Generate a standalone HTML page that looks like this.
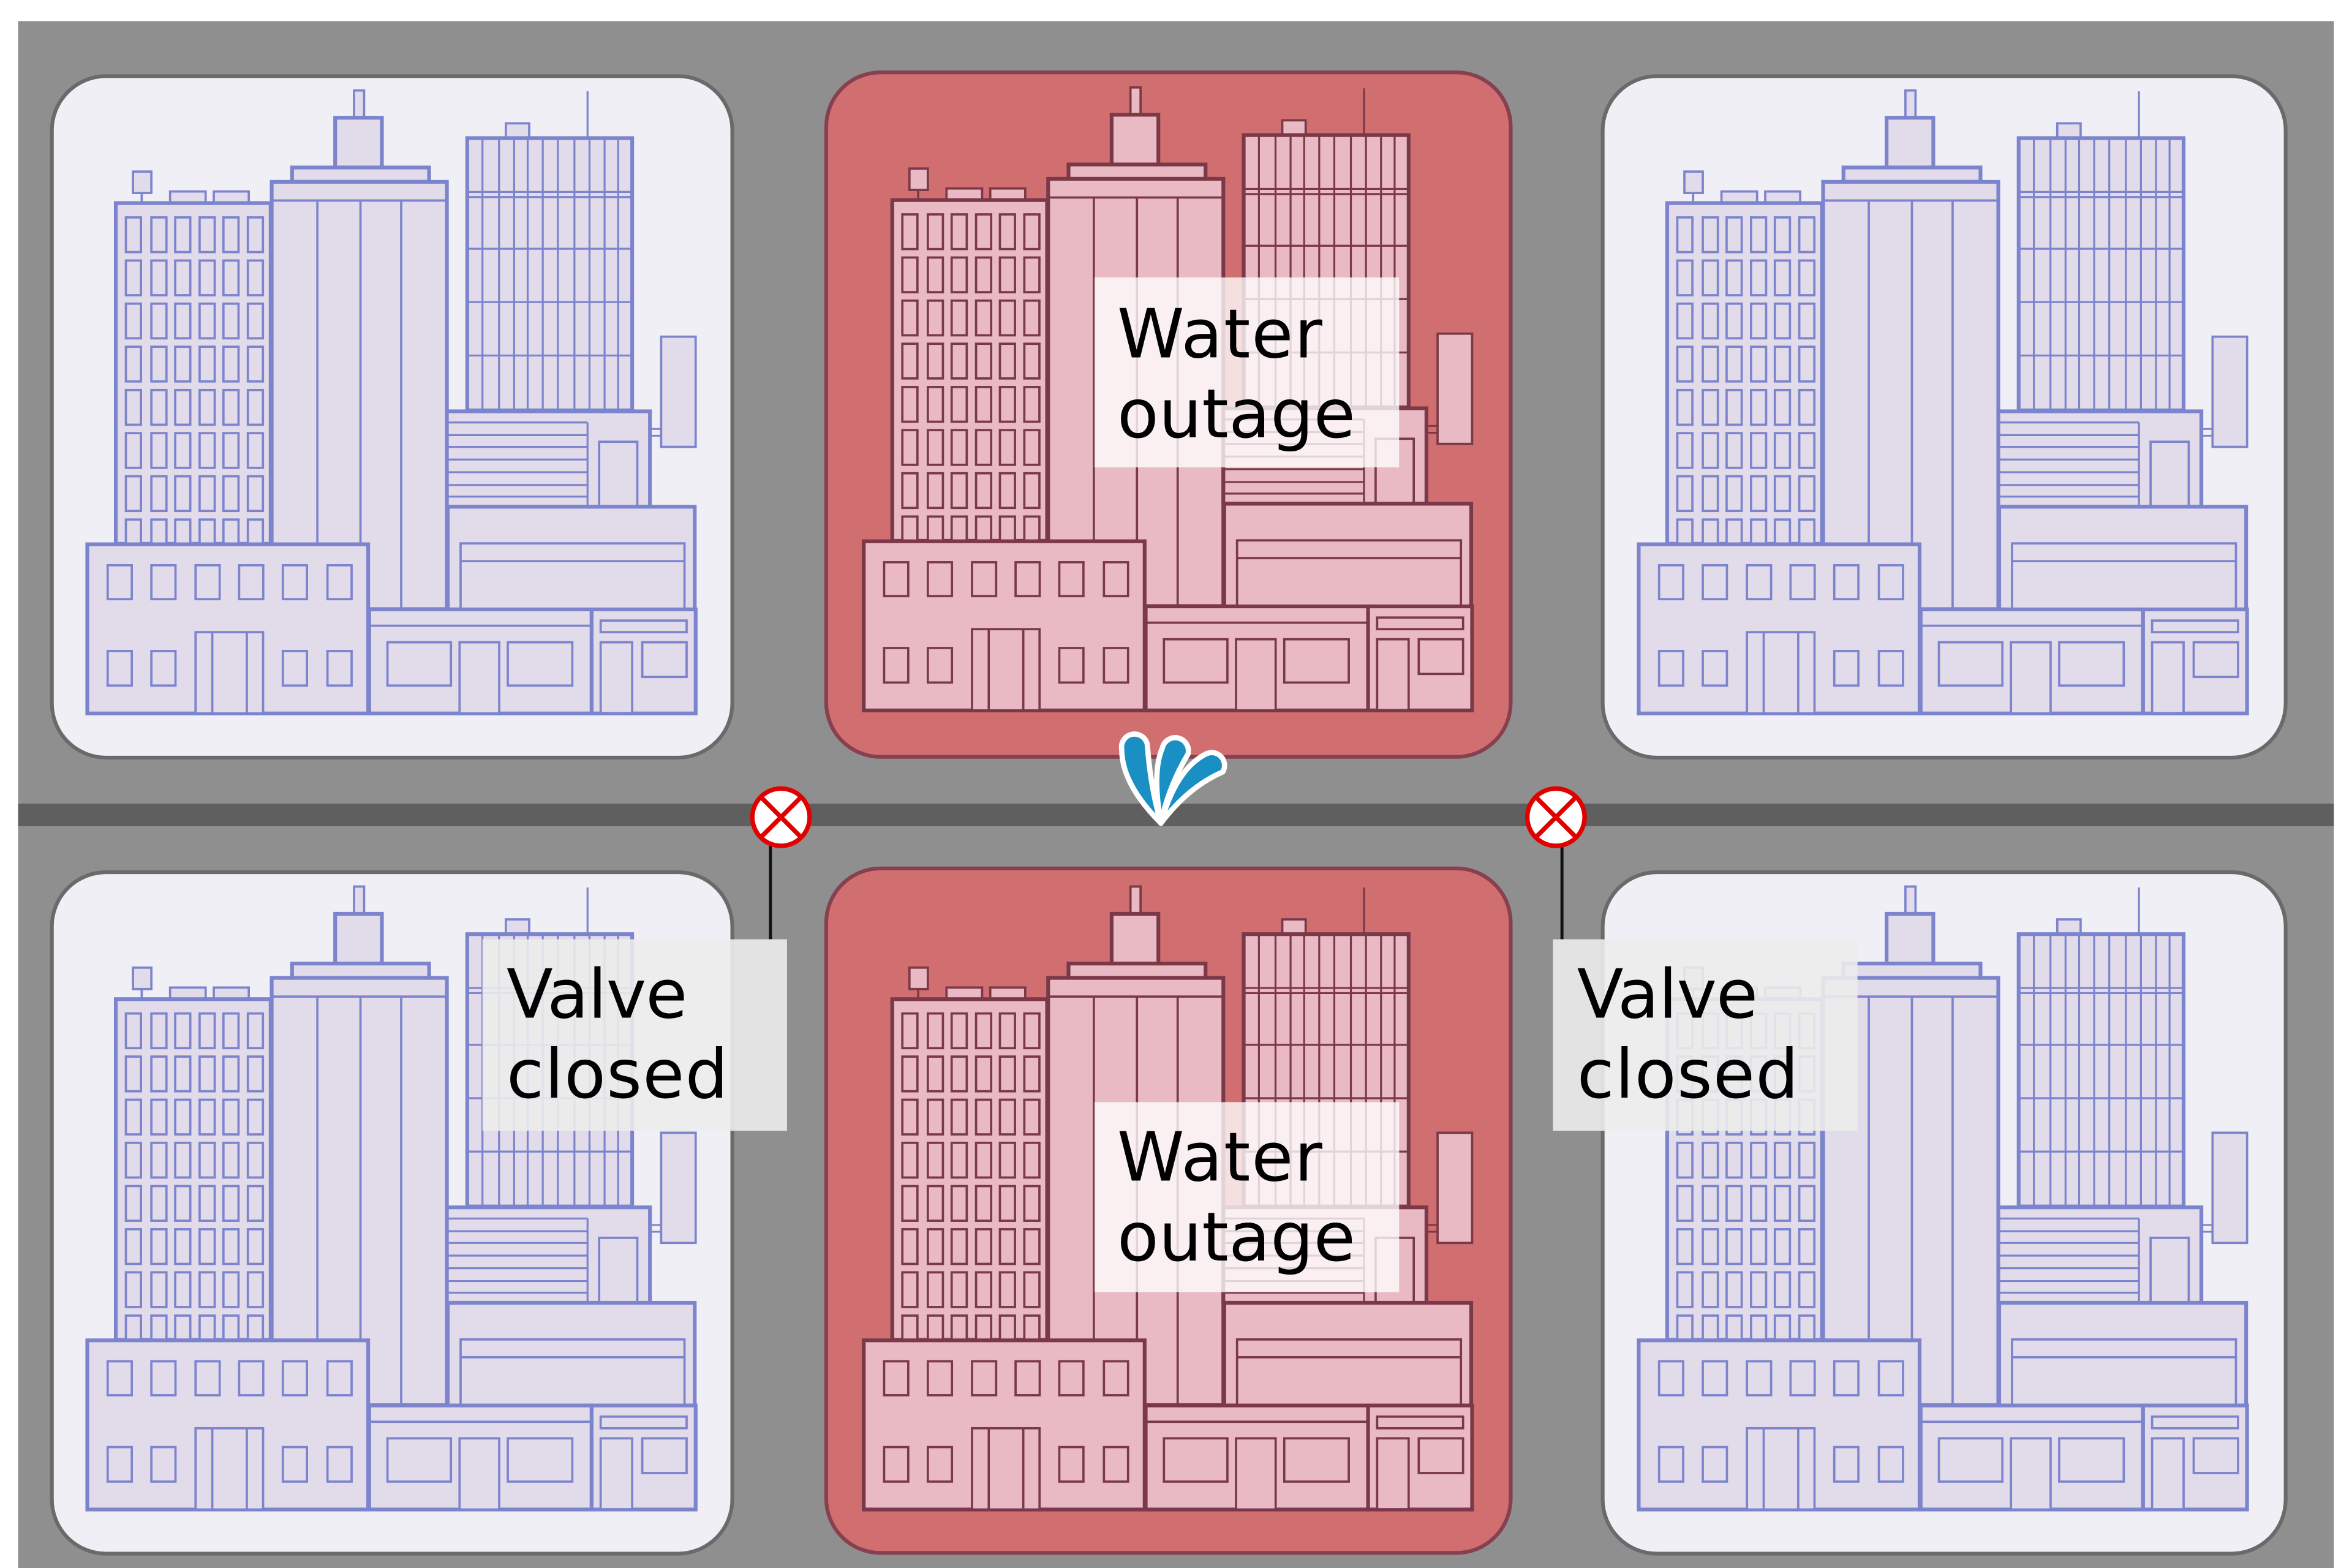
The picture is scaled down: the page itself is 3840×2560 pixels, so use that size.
<!DOCTYPE html>
<html><head><meta charset="utf-8"><style>
html,body{margin:0;padding:0;background:#fff;}
svg{display:block;}
text{font-family:"DejaVu Sans","Liberation Sans",sans-serif;font-size:45px;fill:#000;}
</style></head><body>
<svg width="3840" height="2560" viewBox="0 0 1560 1040" preserveAspectRatio="none" xmlns="http://www.w3.org/2000/svg">
<defs>
<g id="b">
 <rect x="88.2" y="113.8" width="12.2" height="14.2" stroke-width="1.5"/>
 <line x1="94" y1="128" x2="94" y2="135" stroke-width="1.5"/>
 <rect x="112.8" y="127" width="23.6" height="7.7" stroke-width="1.5"/>
 <rect x="141.8" y="127" width="23.2" height="7.7" stroke-width="1.5"/>
 <rect x="76.8" y="134.7" width="102.7" height="226" stroke-width="2.5"/>
 <g stroke-width="1.5">
  <g id="wr">
   <rect x="83.5" y="144.2" width="10" height="23"/><rect x="100.4" y="144.2" width="10" height="23"/><rect x="116.2" y="144.2" width="10" height="23"/><rect x="132.4" y="144.2" width="10" height="23"/><rect x="148.2" y="144.2" width="10" height="23"/><rect x="164.4" y="144.2" width="10" height="23"/>
  </g>
  <use href="#wr" y="28.6"/><use href="#wr" y="57.2"/><use href="#wr" y="85.8"/><use href="#wr" y="114.5"/><use href="#wr" y="143.1"/><use href="#wr" y="171.7"/><use href="#wr" y="200.4"/>
 </g>
 <rect x="234.8" y="60" width="6.7" height="18.1" stroke-width="1.5"/>
 <rect x="222.3" y="78.1" width="31" height="33" stroke-width="2.5"/>
 <rect x="193.7" y="111.1" width="90.9" height="9.5" stroke-width="2.5"/>
 <rect x="180.2" y="120.6" width="116.2" height="283.4" stroke-width="2.5"/>
 <g stroke-width="1.5" fill="none">
  <line x1="180.2" y1="133" x2="296.4" y2="133"/>
  <line x1="210.5" y1="133" x2="210.5" y2="404"/><line x1="239.1" y1="133" x2="239.1" y2="404"/><line x1="266.1" y1="133" x2="266.1" y2="404"/>
 </g>
 <line x1="389.7" y1="60.6" x2="389.7" y2="91.6" stroke-width="1.3"/>
 <rect x="335.5" y="81.8" width="15.5" height="9.8" stroke-width="1.5"/>
 <rect x="309.9" y="91.6" width="109.4" height="180.6" stroke-width="2.5"/>
 <g stroke-width="1.3" fill="none">
  <line x1="320" y1="91.6" x2="320" y2="272"/><line x1="331" y1="91.6" x2="331" y2="272"/><line x1="341" y1="91.6" x2="341" y2="272"/><line x1="350" y1="91.6" x2="350" y2="272"/><line x1="360" y1="91.6" x2="360" y2="272"/><line x1="370" y1="91.6" x2="370" y2="272"/><line x1="381" y1="91.6" x2="381" y2="272"/><line x1="391" y1="91.6" x2="391" y2="272"/><line x1="401" y1="91.6" x2="401" y2="272"/><line x1="410" y1="91.6" x2="410" y2="272"/>
  <line x1="309.9" y1="127.3" x2="419.3" y2="127.3"/><line x1="309.9" y1="130.7" x2="419.3" y2="130.7"/><line x1="309.9" y1="165" x2="419.3" y2="165"/><line x1="309.9" y1="200.4" x2="419.3" y2="200.4"/><line x1="309.9" y1="235.8" x2="419.3" y2="235.8"/>
 </g>
 <line x1="431" y1="284.5" x2="438.5" y2="284.5" stroke-width="1.2"/><line x1="431" y1="289" x2="438.5" y2="289" stroke-width="1.2"/>
 <rect x="438.5" y="223.3" width="22.9" height="73.1" stroke-width="1.5"/>
 <rect x="296.4" y="272.8" width="134.7" height="63.3" stroke-width="2.5"/>
 <g stroke-width="1.3" fill="none">
  <line x1="296.4" y1="280.2" x2="389.7" y2="280.2"/><line x1="296.4" y1="288.6" x2="389.7" y2="288.6"/><line x1="296.4" y1="296.4" x2="389.7" y2="296.4"/><line x1="296.4" y1="304.8" x2="389.7" y2="304.8"/><line x1="296.4" y1="313.2" x2="389.7" y2="313.2"/><line x1="296.4" y1="321.7" x2="389.7" y2="321.7"/><line x1="296.4" y1="329.4" x2="389.7" y2="329.4"/>
  <line x1="389.7" y1="280.2" x2="389.7" y2="336"/>
 </g>
 <rect x="397.4" y="293" width="25.3" height="43.1" stroke-width="1.5"/>
 <rect x="297" y="336.1" width="163.8" height="68.1" stroke-width="2.5"/>
 <rect x="305.5" y="360.4" width="148.5" height="43.8" stroke-width="1.5"/>
 <line x1="305.5" y1="372.2" x2="454" y2="372.2" stroke-width="1.5"/>
 <rect x="57.9" y="361" width="186.3" height="112.2" stroke-width="2.5"/>
 <g stroke-width="1.5">
  <rect x="71.4" y="374.9" width="16" height="22.5"/><rect x="100.4" y="374.9" width="16" height="22.5"/><rect x="129.7" y="374.9" width="16" height="22.5"/><rect x="158.6" y="374.9" width="16" height="22.5"/><rect x="187.6" y="374.9" width="16" height="22.5"/><rect x="217.2" y="374.9" width="16" height="22.5"/>
  <rect x="71.4" y="431.8" width="16" height="22.9"/><rect x="100.4" y="431.8" width="16" height="22.9"/><rect x="187.6" y="431.8" width="16" height="22.9"/><rect x="217.2" y="431.8" width="16" height="22.9"/>
  <rect x="129.7" y="419.3" width="44.8" height="53.9"/>
  <line x1="140.8" y1="419.3" x2="140.8" y2="473"/><line x1="163.7" y1="419.3" x2="163.7" y2="473"/>
 </g>
 <rect x="244.9" y="404.2" width="147.5" height="69" stroke-width="2.5"/>
 <g stroke-width="1.5">
  <line x1="244.9" y1="415" x2="392.4" y2="415"/>
  <rect x="257" y="426" width="42.1" height="28.7"/><rect x="304.8" y="426" width="26.3" height="47.2"/><rect x="336.8" y="426" width="42.8" height="28.7"/>
 </g>
 <rect x="392.4" y="404.2" width="69" height="69" stroke-width="2.5"/>
 <g stroke-width="1.5">
  <rect x="398.4" y="411.6" width="57" height="7.7"/><rect x="398.4" y="426" width="20.9" height="47"/><rect x="426" y="426" width="29.4" height="23"/>
 </g>
</g>
<g id="drop">
 <path d="M770,546 Q744,520 744,497 A8.5,8.5 0 0 1 761,494 Q763,522 770,546 Z"/>
 <path d="M770,546 Q764,512 771,496 A8.5,8.5 0 0 1 788,500 Q775,522 770,546 Z"/>
 <path d="M770,546 Q780,510 800,500 A8.5,8.5 0 0 1 811,512 Q788,522 770,546 Z"/>
</g>
</defs>

<rect x="12" y="14" width="1536" height="1030" fill="#8f8f8f"/>
<rect x="12" y="533" width="1536" height="15" fill="#5f5f5f"/>

<g stroke-width="2.5">
 <rect x="34.4" y="50.5" width="451.3" height="452" rx="36" fill="#f1eff6" stroke="#6a6a6a"/>
 <rect x="548" y="48" width="454" height="454" rx="36" fill="#d06e70" stroke="#874050"/>
 <rect x="1063" y="50.5" width="453" height="452" rx="36" fill="#f1eff6" stroke="#6a6a6a"/>
 <rect x="34.4" y="578.5" width="451.3" height="452" rx="36" fill="#f1eff6" stroke="#6a6a6a"/>
 <rect x="548" y="576" width="454" height="454" rx="36" fill="#d06e70" stroke="#874050"/>
 <rect x="1063" y="578.5" width="453" height="452" rx="36" fill="#f1eff6" stroke="#6a6a6a"/>
</g>

<g fill="#e2dbea" stroke="#7b84cc">
 <use href="#b"/>
 <use href="#b" x="1029" y="0"/>
 <use href="#b" x="0" y="528"/>
 <use href="#b" x="1029" y="528"/>
</g>
<g fill="#e9bac4" stroke="#7a3848">
 <use href="#b" x="515" y="-2"/>
 <use href="#b" x="515" y="528"/>
</g>

<use href="#drop" fill="#1a8fc4" stroke="#ffffff" stroke-width="3.5" stroke-linejoin="round"/>

<line x1="511" y1="558" x2="511" y2="623" stroke="#111" stroke-width="2"/>
<line x1="1036" y1="558" x2="1036" y2="623" stroke="#111" stroke-width="2"/>
<g fill="#fff" stroke="#e00000" stroke-width="3">
 <circle cx="518" cy="542" r="19"/>
 <circle cx="1032" cy="542" r="19"/>
 <path d="M505,529 L531,555 M531,529 L505,555" fill="none"/>
 <path d="M1019,529 L1045,555 M1045,529 L1019,555" fill="none"/>
</g>

<rect x="726" y="184" width="202" height="126" fill="#ffffff" fill-opacity="0.78"/>
<text x="741" y="237" textLength="136">Water</text><text x="741" y="290" textLength="158">outage</text>
<rect x="726" y="731" width="202" height="126" fill="#ffffff" fill-opacity="0.78"/>
<text x="741" y="783" textLength="136">Water</text><text x="741" y="836" textLength="158">outage</text>
<rect x="320" y="623" width="202" height="127" fill="#ececec" fill-opacity="0.9"/>
<text x="336" y="675" textLength="120">Valve</text><text x="336" y="728" textLength="147">closed</text>
<rect x="1030" y="623" width="202" height="127" fill="#ececec" fill-opacity="0.9"/>
<text x="1046" y="675" textLength="120">Valve</text><text x="1046" y="728" textLength="147">closed</text>
</svg>
</body></html>
